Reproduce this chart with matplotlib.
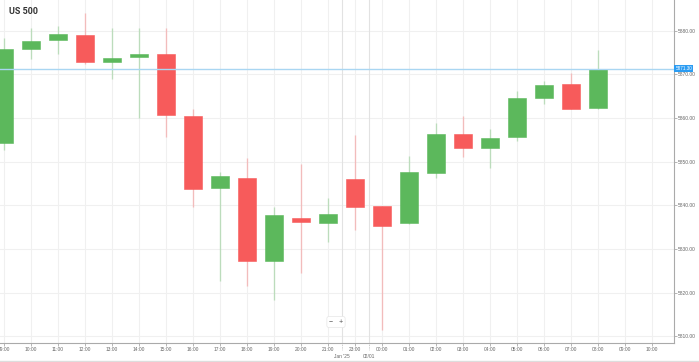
import matplotlib
matplotlib.use("Agg")
import matplotlib.pyplot as plt

# Hourly candles, US 500
hours = ["09:00", "10:00", "11:00", "12:00", "13:00", "14:00", "15:00", "16:00",
         "17:00", "18:00", "19:00", "20:00", "21:00", "23:00", "00:00", "01:00",
         "02:00", "03:00", "04:00", "05:00", "06:00", "07:00", "08:00"]
opens = [5854.2, 5875.7, 5877.8, 5879.1, 5872.9, 5873.9, 5874.6, 5860.5,
         5843.9, 5846.3, 5827.2, 5837.2, 5835.9, 5846.1, 5839.8, 5835.9,
         5847.4, 5856.3, 5853.1, 5855.6, 5864.6, 5867.7, 5862.3]
highs = [5878.4, 5880.6, 5881.1, 5884.1, 5880.6, 5880.6, 5880.6, 5862.1,
         5847.6, 5850.8, 5839.6, 5849.5, 5841.7, 5856.1, 5839.9, 5851.4,
         5858.8, 5860.4, 5857.5, 5866.1, 5868.5, 5870.2, 5875.5]
lows = [5852.7, 5873.6, 5874.7, 5872.3, 5868.9, 5859.9, 5855.7, 5839.7,
        5822.7, 5821.4, 5818.3, 5824.4, 5831.7, 5834.4, 5811.4, 5835.8,
        5846.3, 5851.0, 5848.5, 5854.7, 5863.1, 5862.0, 5862.0]
closes = [5875.9, 5877.6, 5879.2, 5872.8, 5873.7, 5874.7, 5860.6, 5843.7,
          5846.6, 5827.2, 5837.8, 5836.2, 5838.1, 5839.7, 5835.2, 5847.6,
          5856.4, 5853.1, 5855.5, 5864.5, 5867.6, 5862.1, 5871.3]
tick_labels = hours + ["09:00", "10:00"]
day_marks = [(12.5, "Jan '25"), (13.5, "02/01")]
last_price = 5871.3
y_ticks = [5810, 5820, 5830, 5840, 5850, 5860, 5870, 5880]

green = "#5cb85c"
red = "#f75b5b"

plt.rcParams["font.family"] = ["Liberation Sans", "DejaVu Sans"]

fig = plt.figure(figsize=(6.99, 3.62), dpi=100)
ax = fig.add_axes([0, 19 / 362, 674 / 699, 343 / 362])

x = list(range(len(hours)))
cols = [green if c >= o else red for o, c in zip(opens, closes)]

# wicks
ax.vlines(x, lows, highs, colors=cols, linewidth=1, alpha=0.35, zorder=2)
# bodies
bottoms = [min(o, c) for o, c in zip(opens, closes)]
heights = [max(abs(c - o), 0.6) for o, c in zip(opens, closes)]
ax.bar(x, heights, bottom=bottoms, width=0.66, color=cols,
       edgecolor=cols, linewidth=0.4, zorder=3)

# current price line
ax.axhline(last_price, color="#a9d6f2", linewidth=1, zorder=4)
ax.text(1.002, last_price, f"{last_price:.2f}", transform=ax.get_yaxis_transform(),
        fontsize=3.3, color="white", va="center", ha="left", zorder=6,
        bbox=dict(boxstyle="square,pad=0.25", fc="#2b9cf2", ec="none"),
        clip_on=False)

# day separators
for pos, lab in day_marks:
    ax.axvline(pos, color="#e2e2e2", linewidth=0.8, zorder=1)
    ax.plot([pos, pos], [0, -0.02], transform=ax.get_xaxis_transform(),
            color="#bbbbbb", linewidth=0.6, linestyle=(0, (1, 1)), clip_on=False)
    ax.text(pos, -0.033, lab, transform=ax.get_xaxis_transform(),
            fontsize=3.5, color="#666666", ha="center", va="top")

ax.set_xlim(-0.15, 24.81)
ax.set_ylim(5808.45, 5887.03)

ax.set_xticks(range(len(tick_labels)))
ax.set_xticklabels(tick_labels)
ax.set_yticks(y_ticks)
ax.set_yticklabels([f"{v:.2f}" for v in y_ticks])
ax.yaxis.tick_right()
ax.tick_params(axis="both", labelsize=3.5, colors="#999999", labelcolor="#666666",
               length=2, width=0.5, pad=1)

ax.grid(True, color="#f0f0f0", linewidth=0.8, zorder=0)
ax.set_axisbelow(True)
for side in ["left", "top"]:
    ax.spines[side].set_visible(False)
for side in ["right", "bottom"]:
    ax.spines[side].set_color("#aaaaaa")
    ax.spines[side].set_linewidth(0.8)

# zoom buttons
ax.text(336 / 674, 1 - 322 / 343, "\u2212   +", transform=ax.transAxes,
        fontsize=5, color="#555555", ha="center", va="center", zorder=7,
        bbox=dict(boxstyle="round,pad=0.3", fc="white", ec="#e6e6e6", lw=0.5))

fig.text(9 / 699, 1 - 11 / 362, "US 500", fontsize=6.5, fontweight="bold",
         color="#333333", va="center", ha="left", family=["Roboto", "DejaVu Sans"])

fig.add_artist(plt.Line2D([0, 1], [1 / 362, 1 / 362], color="#dddddd", linewidth=1))

fig.savefig("out.png", dpi=100)
